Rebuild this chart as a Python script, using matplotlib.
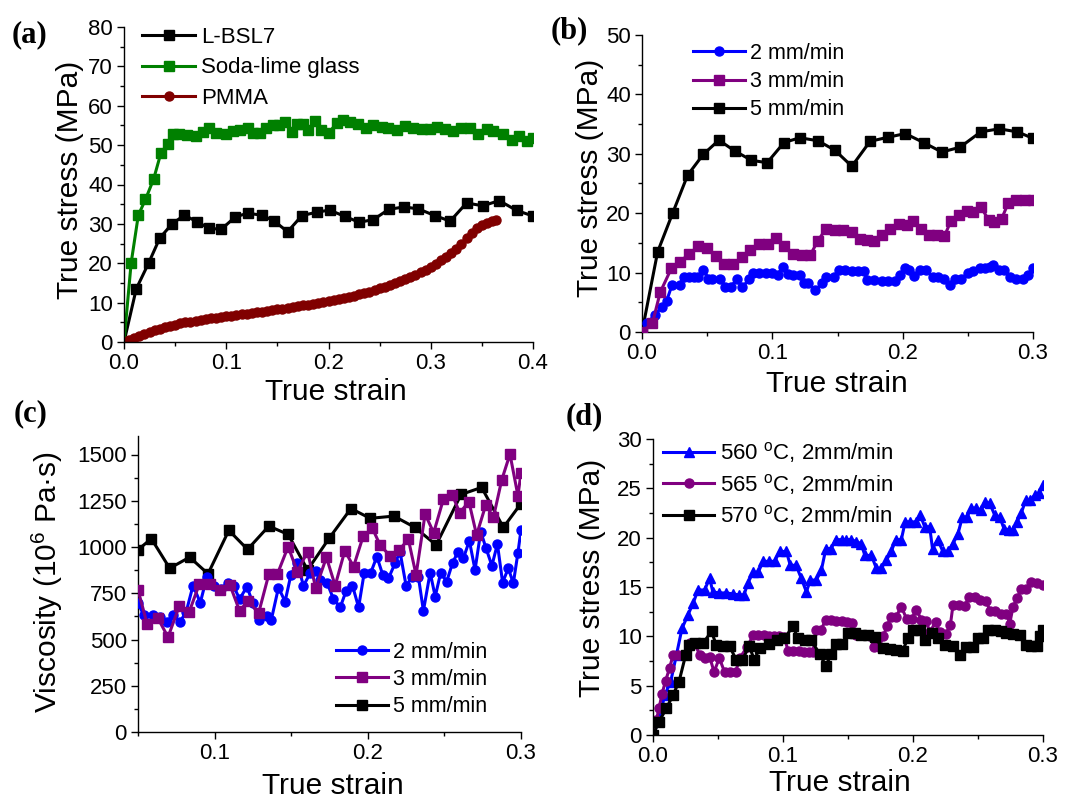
import matplotlib
matplotlib.use('Agg')
import matplotlib.pyplot as plt
from matplotlib.ticker import MultipleLocator

plt.rcParams['font.family'] = ['Liberation Sans', 'DejaVu Sans']
plt.rcParams['mathtext.fontset'] = 'custom'
plt.rcParams['mathtext.rm'] = 'Liberation Sans'
plt.rcParams['mathtext.it'] = 'Liberation Sans:italic'

# ---- (a) stress-strain of three glasses ----
bsl7_strain = [0, 0.012, 0.024, 0.035, 0.047, 0.059, 0.071, 0.083, 0.095, 0.109,
               0.121, 0.135, 0.147, 0.160, 0.174, 0.189, 0.201, 0.216, 0.230, 0.244,
               0.259, 0.274, 0.288, 0.304, 0.319, 0.335, 0.351, 0.367, 0.384, 0.400]
bsl7_stress = [0, 13.5, 20, 26.4, 30, 32.2, 30.6, 28.9, 28.6, 31.8,
               32.7, 32.2, 30.7, 28, 32.1, 33, 33.5, 31.9, 30.4, 31.1,
               33.7, 34.3, 33.8, 32.1, 30.7, 35.3, 34.6, 35.9, 33.4, 32.0]

soda_strain = [0, 0.007, 0.014, 0.021, 0.029, 0.036, 0.043, 0.048, 0.054, 0.062,
               0.070, 0.077, 0.083, 0.090, 0.100, 0.107, 0.113, 0.121, 0.126, 0.133,
               0.139, 0.146, 0.152, 0.157, 0.164, 0.169, 0.175, 0.180, 0.187, 0.193,
               0.200, 0.208, 0.214, 0.221, 0.229, 0.237, 0.244, 0.252, 0.258, 0.267,
               0.275, 0.283, 0.291, 0.299, 0.306, 0.314, 0.322, 0.330, 0.338, 0.346,
               0.355, 0.361, 0.371, 0.379, 0.386, 0.394, 0.400]
soda_stress = [0, 20.1, 32.2, 36.2, 41.4, 47.9, 50.4, 52.9, 52.7, 52.5,
               52.3, 53.4, 54.4, 53.1, 52.7, 53.5, 53.8, 54.4, 53.1, 53.0,
               54.4, 55.0, 55.0, 55.8, 53.3, 55.3, 55.4, 53.8, 56.1, 53.8,
               53.1, 55.5, 56.3, 55.8, 55.3, 54.4, 55.0, 54.6, 54.4, 53.8,
               54.8, 54.4, 54.2, 54.0, 54.6, 54.2, 53.7, 54.4, 54.4, 52.7,
               54.2, 53.7, 52.7, 51.4, 52.3, 51.0, 51.8]

pmma_strain = [0.000, 0.005, 0.010, 0.015, 0.020, 0.025, 0.030, 0.035, 0.040, 0.045,
               0.050, 0.055, 0.060, 0.065, 0.070, 0.075, 0.080, 0.085, 0.090, 0.095,
               0.100, 0.105, 0.110, 0.115, 0.120, 0.125, 0.130, 0.135, 0.140, 0.145,
               0.150, 0.155, 0.160, 0.165, 0.170, 0.175, 0.180, 0.185, 0.190, 0.195,
               0.200, 0.205, 0.210, 0.215, 0.220, 0.225, 0.230, 0.235, 0.240, 0.245,
               0.250, 0.255, 0.260, 0.265, 0.270, 0.275, 0.280, 0.285, 0.290, 0.295,
               0.300, 0.305, 0.310, 0.315, 0.320, 0.325, 0.330, 0.335, 0.340, 0.345,
               0.350, 0.355, 0.360, 0.364]
pmma_stress = [0.0, 0.5, 1.1, 1.6, 2.1, 2.6, 3.0, 3.4, 3.8, 4.1,
               4.4, 4.7, 5.0, 5.2, 5.4, 5.6, 5.8, 6.0, 6.2, 6.4,
               6.5, 6.7, 6.9, 7.0, 7.2, 7.4, 7.6, 7.7, 7.9, 8.1,
               8.3, 8.5, 8.7, 8.9, 9.1, 9.3, 9.5, 9.7, 9.9, 10.1,
               10.4, 10.6, 10.9, 11.2, 11.5, 11.8, 12.1, 12.5, 12.8, 13.2,
               13.6, 14.0, 14.4, 14.9, 15.4, 15.9, 16.5, 17.1, 17.7, 18.4,
               19.1, 19.9, 20.7, 21.6, 22.6, 23.7, 25.0, 26.4, 27.8, 29.0,
               29.8, 30.3, 30.7, 31.0]

# ---- (b) L-BSL7 at three crosshead speeds ----
b2_strain = [0, 0.004, 0.010, 0.015, 0.019, 0.023, 0.029, 0.032, 0.036, 0.040,
             0.043, 0.047, 0.051, 0.054, 0.060, 0.064, 0.068, 0.073, 0.077, 0.082,
             0.085, 0.090, 0.095, 0.100, 0.104, 0.108, 0.112, 0.116, 0.121, 0.124,
             0.127, 0.133, 0.138, 0.141, 0.147, 0.151, 0.156, 0.161, 0.166, 0.170,
             0.173, 0.178, 0.184, 0.189, 0.194, 0.198, 0.202, 0.205, 0.209, 0.213,
             0.218, 0.223, 0.227, 0.232, 0.236, 0.240, 0.245, 0.250, 0.254, 0.259,
             0.263, 0.267, 0.269, 0.274, 0.278, 0.282, 0.287, 0.292, 0.296, 0.300]
b2_stress = [0, 1.5, 2.9, 4.2, 5.3, 7.9, 7.9, 9.3, 9.3, 9.3,
             9.3, 10.5, 9.0, 9.0, 9.0, 7.6, 7.6, 8.9, 7.5, 8.9,
             10.0, 10.0, 9.9, 9.9, 9.6, 11.0, 9.8, 9.6, 9.6, 8.3,
             8.2, 7.0, 8.2, 9.3, 9.3, 10.4, 10.4, 10.2, 10.2, 10.2,
             8.8, 8.8, 8.6, 8.6, 8.6, 9.6, 10.7, 10.5, 9.4, 10.5,
             10.4, 9.2, 9.2, 9.0, 7.9, 9.0, 9.0, 9.9, 10.2, 10.7,
             10.7, 11.0, 11.3, 10.5, 10.4, 9.3, 9.0, 9.0, 9.6, 10.7]

b3_strain = [0, 0.008, 0.014, 0.0225, 0.029, 0.036, 0.043, 0.050, 0.0565, 0.063,
             0.0695, 0.077, 0.083, 0.090, 0.097, 0.103, 0.109, 0.116, 0.123, 0.129,
             0.135, 0.141, 0.148, 0.154, 0.161, 0.167, 0.173, 0.178, 0.184, 0.190,
             0.197, 0.203, 0.208, 0.214, 0.220, 0.226, 0.232, 0.237, 0.243, 0.249,
             0.254, 0.260, 0.266, 0.270, 0.276, 0.281, 0.287, 0.294, 0.300]
b3_stress = [0, 1.5, 6.7, 10.7, 11.8, 13.1, 14.4, 14.2, 12.8, 11.4,
             11.4, 12.6, 13.8, 14.8, 14.8, 15.8, 14.4, 13.1, 13.0, 12.9,
             15.4, 17.3, 17.2, 17.1, 16.8, 15.6, 15.5, 15.3, 16.3, 17.3,
             18.2, 18.0, 18.7, 17.4, 16.4, 16.3, 16.1, 18.7, 19.7, 20.4,
             20.2, 21.0, 18.9, 18.6, 19.1, 21.7, 22.3, 22.2, 22.2]

b5_strain = [0, 0.012, 0.0235, 0.035, 0.047, 0.059, 0.071, 0.084, 0.096, 0.109,
             0.121, 0.135, 0.148, 0.161, 0.175, 0.189, 0.202, 0.216, 0.230, 0.244,
             0.260, 0.274, 0.288, 0.300]
b5_stress = [0, 13.5, 20, 26.4, 29.9, 32.3, 30.5, 28.9, 28.5, 31.9,
             32.7, 32.2, 30.6, 27.9, 32.1, 32.8, 33.4, 31.9, 30.3, 31.1,
             33.7, 34.2, 33.7, 32.6]

# ---- (c) viscosity ----
c2_strain = [0.050, 0.0537, 0.060, 0.0646, 0.069, 0.0728, 0.0776, 0.0815, 0.0859, 0.0907,
             0.095, 0.0998, 0.1041, 0.1085, 0.1124, 0.1163, 0.1211, 0.125, 0.1293, 0.134,
             0.137, 0.1417, 0.146, 0.1498, 0.154, 0.158, 0.1624, 0.1663, 0.169, 0.1733,
             0.1776, 0.182, 0.1859, 0.190, 0.194, 0.1976, 0.202, 0.2059, 0.2098, 0.2135,
             0.2178, 0.221, 0.225, 0.229, 0.233, 0.2363, 0.2407, 0.244, 0.2476, 0.2515,
             0.2554, 0.259, 0.2624, 0.2663, 0.270, 0.2737, 0.2772, 0.281, 0.2846, 0.288,
             0.2917, 0.295, 0.298, 0.300]
c2_visc = [696, 633, 633, 624, 597, 633, 597, 651, 791, 700,
           840, 790, 772, 808, 790, 718, 786, 696, 606, 628,
           606, 781, 705, 849, 912, 791, 858, 872, 822, 808,
           719, 674, 764, 791, 674, 858, 862, 948, 849, 831,
           912, 975, 790, 840, 840, 655, 862, 732, 862, 813,
           916, 975, 939, 1034, 876, 1083, 993, 899, 1016, 808,
           885, 804, 969, 1092]

c3_strain = [0.050, 0.056, 0.063, 0.0696, 0.077, 0.0835, 0.090, 0.097, 0.1037, 0.110,
             0.1163, 0.122, 0.1287, 0.1354, 0.141, 0.148, 0.154, 0.1607, 0.166, 0.173,
             0.1787, 0.185, 0.1907, 0.197, 0.203, 0.208, 0.2146, 0.2204, 0.2265, 0.2315,
             0.2374, 0.243, 0.2493, 0.2552, 0.260, 0.266, 0.271, 0.277, 0.282, 0.2874,
             0.2928, 0.298, 0.300]
c3_visc = [768, 583, 615, 513, 682, 651, 799, 799, 768, 795,
           655, 709, 642, 853, 854, 1002, 867, 975, 777, 944,
           791, 980, 894, 1059, 1101, 1011, 951, 984, 1041, 849,
           1178, 1077, 1257, 1281, 1185, 1245, 1065, 1227, 1160, 1362,
           1502, 1277, 1400]

c5_strain = [0.050, 0.0587, 0.0707, 0.0837, 0.0957, 0.1093, 0.1215, 0.1354, 0.148, 0.1607,
             0.175, 0.189, 0.2015, 0.217, 0.2307, 0.2446, 0.2609, 0.2743, 0.2885, 0.300]
c5_visc = [985, 1045, 885, 945, 855, 1090, 987, 1113, 1068, 876,
           1050, 1208, 1155, 1167, 1106, 1011, 1284, 1322, 1106, 1235]

# ---- (d) temperature series ----
d560_strain = [0, 0.0046, 0.009, 0.0136, 0.018, 0.0223, 0.027, 0.031, 0.0346, 0.0397,
               0.0436, 0.046, 0.051, 0.0564, 0.0615, 0.066, 0.070, 0.073, 0.077, 0.081,
               0.0846, 0.089, 0.0936, 0.0974, 0.1026, 0.1056, 0.110, 0.114, 0.118, 0.121,
               0.1256, 0.1295, 0.133, 0.137, 0.1405, 0.145, 0.1487, 0.1526, 0.1564, 0.160,
               0.163, 0.168, 0.1718, 0.1756, 0.1795, 0.1833, 0.1867, 0.191, 0.194, 0.198,
               0.202, 0.2056, 0.209, 0.2128, 0.215, 0.219, 0.223, 0.227, 0.2308, 0.2346,
               0.238, 0.2415, 0.2449, 0.2487, 0.2526, 0.2551, 0.259, 0.2628, 0.2667, 0.270,
               0.2738, 0.277, 0.280, 0.2833, 0.2867, 0.2903, 0.2936, 0.297, 0.300]
d560_stress = [0, 1.5, 4.05, 5.4, 8.1, 10.8, 12.2, 13.4, 14.7, 14.7,
               15.9, 14.5, 14.4, 14.4, 14.3, 14.2, 14.2, 15.4, 16.5, 16.5,
               17.6, 17.6, 17.6, 18.6, 18.6, 17.2, 17.2, 15.9, 14.5, 15.7,
               15.7, 16.7, 18.9, 18.9, 19.8, 19.8, 19.8, 19.8, 19.6, 19.4,
               18.2, 18.2, 16.9, 16.9, 17.7, 18.6, 19.8, 19.8, 21.6, 21.6,
               21.6, 22.3, 21.1, 21.1, 18.9, 19.8, 18.6, 18.6, 19.4, 20.4,
               22.1, 22.1, 23.0, 23.0, 22.8, 23.6, 23.5, 22.3, 22.1, 20.9,
               20.8, 20.8, 21.6, 22.5, 23.8, 23.8, 24.3, 24.5, 25.3]

d565_strain = [0, 0.0026, 0.0046, 0.007, 0.0097, 0.0128, 0.0154, 0.019, 0.023, 0.0256,
               0.0287, 0.032, 0.036, 0.040, 0.0436, 0.047, 0.051, 0.055, 0.059, 0.0636,
               0.0667, 0.0723, 0.077, 0.081, 0.085, 0.089, 0.093, 0.097, 0.101, 0.104,
               0.108, 0.112, 0.116, 0.120, 0.123, 0.1256, 0.129, 0.133, 0.137, 0.141,
               0.145, 0.149, 0.153, 0.156, 0.159, 0.163, 0.167, 0.170, 0.174, 0.177,
               0.180, 0.183, 0.187, 0.191, 0.195, 0.199, 0.2026, 0.2064, 0.210, 0.213,
               0.2174, 0.2205, 0.225, 0.2287, 0.2308, 0.2354, 0.240, 0.243, 0.2474, 0.2513,
               0.2564, 0.259, 0.2628, 0.268, 0.2718, 0.2744, 0.277, 0.2803, 0.2833, 0.2872,
               0.291, 0.2954, 0.300]
d565_stress = [0, 1.5, 2.7, 4.2, 5.5, 6.8, 8.1, 8.1, 8.1, 8.1,
               9.3, 9.3, 8.1, 7.8, 7.9, 6.4, 7.8, 6.4, 6.4, 6.4,
               7.8, 8.9, 10.1, 10.1, 10.1, 10.0, 10.0, 10.0, 9.9, 8.5,
               8.5, 8.5, 8.4, 8.4, 8.4, 10.6, 10.6, 11.7, 11.7, 11.6,
               11.6, 11.5, 11.4, 10.1, 10.1, 10.1, 10.0, 8.9, 8.9, 10.0,
               11.0, 12.0, 12.0, 13.0, 11.8, 11.8, 12.7, 11.7, 11.6, 10.4,
               11.5, 10.4, 10.2, 11.1, 13.2, 13.2, 13.1, 14.0, 14.0, 13.7,
               13.6, 12.6, 12.6, 12.3, 12.3, 11.3, 13.0, 13.9, 14.8, 14.8,
               15.5, 15.4, 15.2]

d570_strain = [0, 0.0046, 0.0103, 0.0154, 0.020, 0.0251, 0.028, 0.032, 0.0385, 0.045,
               0.0487, 0.054, 0.059, 0.064, 0.0687, 0.074, 0.078, 0.082, 0.089, 0.095,
               0.101, 0.1077, 0.1115, 0.1167, 0.1218, 0.1282, 0.133, 0.137, 0.141, 0.1456,
               0.150, 0.155, 0.160, 0.165, 0.1705, 0.177, 0.182, 0.187, 0.192, 0.196,
               0.200, 0.2056, 0.209, 0.2146, 0.2192, 0.2244, 0.2308, 0.236, 0.2405, 0.246,
               0.250, 0.2538, 0.2577, 0.263, 0.268, 0.2718, 0.277, 0.282, 0.2867, 0.291,
               0.2954, 0.2974, 0.300]
d570_stress = [0, 1.35, 2.7, 4.05, 5.4, 8.1, 9.1, 9.3, 9.3, 10.5,
               9.1, 9.0, 9.0, 7.6, 7.6, 9.0, 7.6, 8.8, 9.2, 9.6,
               9.8, 11.0, 9.8, 9.6, 9.6, 8.2, 7.0, 8.2, 9.2, 9.2,
               10.3, 10.3, 10.1, 10.1, 9.9, 8.8, 8.7, 8.6, 8.5, 9.8,
               10.6, 10.6, 9.6, 10.3, 9.8, 9.1, 9.0, 8.1, 8.9, 8.9,
               9.8, 9.8, 10.6, 10.6, 10.5, 10.3, 10.2, 10.1, 9.1, 9.0,
               9.0, 10.0, 10.6]

BLUE = '#0000ff'
PURPLE = '#800080'
GREEN = '#008000'
DARKRED = '#800000'

TICK_FS = 16
LABEL_FS = 21.5
W, H = 1071, 798


def style_axis(ax, xlim, ylim, xmaj, ymaj):
    # Origin-like: only left and bottom axes, outward ticks
    ax.spines['top'].set_visible(False)
    ax.spines['right'].set_visible(False)
    for s in ('left', 'bottom'):
        ax.spines[s].set_linewidth(1.0)
    ax.set_xlim(xlim)
    ax.set_ylim(ylim)
    ax.xaxis.set_major_locator(MultipleLocator(xmaj))
    ax.xaxis.set_minor_locator(MultipleLocator(xmaj / 2))
    ax.yaxis.set_major_locator(MultipleLocator(ymaj))
    ax.yaxis.set_minor_locator(MultipleLocator(ymaj / 2))
    ax.tick_params(which='major', direction='out', length=5, width=1.0, labelsize=TICK_FS, pad=3)
    ax.tick_params(which='minor', direction='out', length=3, width=1.0)


def px_axes(left, top, right, bottom):
    # axes rectangle given in pixels of the 1071x798 figure
    return fig.add_axes([left / W, 1 - bottom / H, (right - left) / W, (bottom - top) / H])


def place_legend(ax, x_px, y_px, fs=15.5, spacing=0.3, hl=2.4, handles=None, labels=None):
    if handles is None:
        handles, labels = ax.get_legend_handles_labels()
    ax.legend(handles, labels, loc='upper left', bbox_to_anchor=(x_px / W, 1 - y_px / H),
              bbox_transform=fig.transFigure, frameon=False, fontsize=fs,
              handlelength=hl, handletextpad=0.25, labelspacing=spacing,
              borderpad=0, borderaxespad=0)


fig = plt.figure(figsize=(10.71, 7.98), dpi=100)

# (a)
ax_a = px_axes(124, 27, 533, 342)
ax_a.plot(bsl7_strain, bsl7_stress, '-s', color='black', lw=2.2, ms=6.5, label='L-BSL7')
ax_a.plot(soda_strain, soda_stress, '-s', color=GREEN, lw=2.2, ms=6.5, label='Soda-lime glass')
ax_a.plot(pmma_strain, pmma_stress, '-o', color=DARKRED, lw=2.2, ms=6.5, label='PMMA')
style_axis(ax_a, (0, 0.4), (0, 80), 0.1, 10)
ax_a.set_xticks([0, 0.1, 0.2, 0.3, 0.4])
ax_a.set_xlabel('True strain', fontsize=LABEL_FS)
ax_a.set_ylabel('True stress (MPa)', fontsize=LABEL_FS)
ax_a.xaxis.set_label_coords(0.518, -0.114)
ax_a.yaxis.set_label_coords(-0.098, 0.514)
place_legend(ax_a, 142, 27, fs=16, spacing=0.42)

# (b)
ax_b = px_axes(642, 35, 1033, 332)
ax_b.plot(b2_strain, b2_stress, '-o', color=BLUE, lw=2.2, ms=6.5, label='2 mm/min', zorder=3)
ax_b.plot(b3_strain, b3_stress, '-s', color=PURPLE, lw=2.2, ms=6.5, label='3 mm/min', zorder=4)
ax_b.plot(b5_strain, b5_stress, '-s', color='black', lw=2.2, ms=6.5, label='5 mm/min', zorder=2)
style_axis(ax_b, (0, 0.3), (0, 50), 0.1, 10)
ax_b.set_xlabel('True strain', fontsize=LABEL_FS)
ax_b.set_ylabel('True stress (MPa)', fontsize=LABEL_FS)
ax_b.xaxis.set_label_coords(0.499, -0.128)
ax_b.yaxis.set_label_coords(-0.098, 0.519)
place_legend(ax_b, 693, 43, spacing=0.33)

# (c)
ax_c = px_axes(138, 436, 521, 732)
ax_c.plot(c5_strain, c5_visc, '-s', color='black', lw=2.2, ms=6.5, label='5 mm/min', zorder=2)
ax_c.plot(c2_strain, c2_visc, '-o', color=BLUE, lw=2.2, ms=6.5, label='2 mm/min', zorder=3)
ax_c.plot(c3_strain, c3_visc, '-s', color=PURPLE, lw=2.2, ms=6.5, label='3 mm/min', zorder=4)
style_axis(ax_c, (0.05, 0.3), (0, 1600), 0.1, 250)
ax_c.set_xticks([0.1, 0.2, 0.3])
ax_c.set_xticks([0.05, 0.15, 0.25], minor=True)
ax_c.set_yticks([0, 250, 500, 750, 1000, 1250, 1500])
ax_c.set_xlabel('True strain', fontsize=LABEL_FS)
ax_c.set_ylabel('Viscosity (10$^6$ Pa·s)', fontsize=LABEL_FS)
ax_c.xaxis.set_label_coords(0.509, -0.135)
ax_c.yaxis.set_label_coords(-0.19, 0.507)
h, l = ax_c.get_legend_handles_labels()
place_legend(ax_c, 336, 642, spacing=0.28,
             handles=[h[1], h[2], h[0]], labels=[l[1], l[2], l[0]])

# (d)
ax_d = px_axes(653, 439, 1043, 735)
ax_d.plot(d560_strain, d560_stress, '-^', color=BLUE, lw=2.2, ms=7, label='560 $^{\\mathrm{o}}$C, 2mm/min')
ax_d.plot(d565_strain, d565_stress, '-o', color=PURPLE, lw=2.2, ms=6.5, label='565 $^{\\mathrm{o}}$C, 2mm/min')
ax_d.plot(d570_strain, d570_stress, '-s', color='black', lw=2.2, ms=6.5, label='570 $^{\\mathrm{o}}$C, 2mm/min')
style_axis(ax_d, (0, 0.3), (0, 30), 0.1, 5)
ax_d.set_xlabel('True strain', fontsize=LABEL_FS)
ax_d.set_ylabel('True stress (MPa)', fontsize=LABEL_FS)
ax_d.xaxis.set_label_coords(0.479, -0.115)
ax_d.yaxis.set_label_coords(-0.12, 0.53)
place_legend(ax_d, 663, 440, fs=16, spacing=0.3, hl=2.3)

# panel letters
for txt, x, y in [('(a)', 12, 20), ('(b)', 551, 16), ('(c)', 14, 399), ('(d)', 566, 402)]:
    fig.text(x / W, 1 - y / H, txt, fontsize=22, fontweight='bold',
             family='Liberation Serif', va='top', ha='left')

fig.savefig('out.png', dpi=100)
